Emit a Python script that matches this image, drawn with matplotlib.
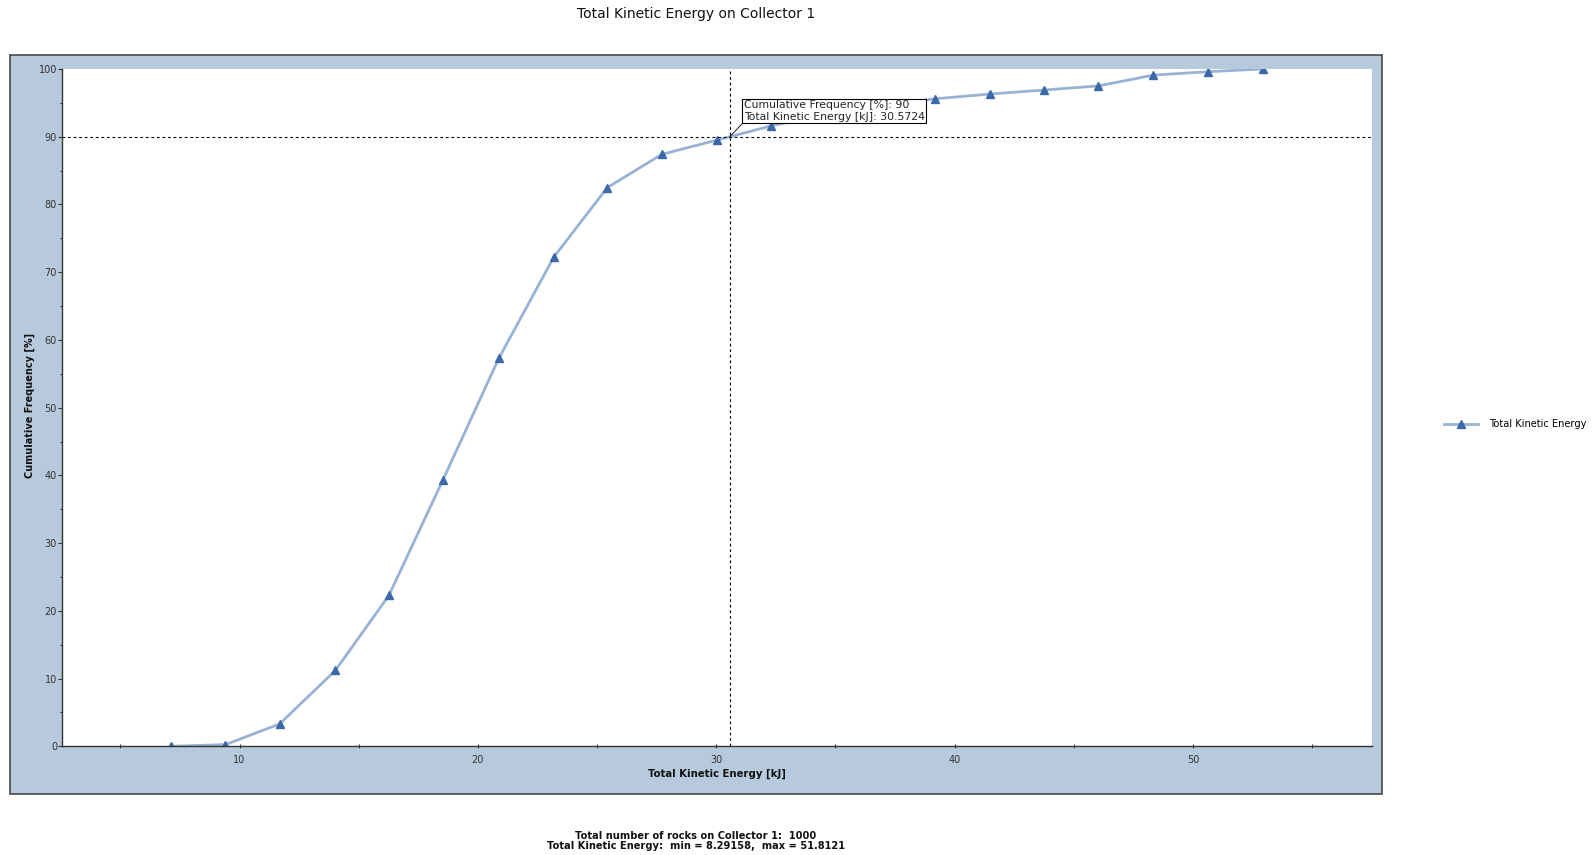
import matplotlib
matplotlib.use("Agg")
import matplotlib.pyplot as plt
from matplotlib.patches import Rectangle
from matplotlib.ticker import MultipleLocator

# cumulative distribution
energy_kj = [7.13, 9.41, 11.68, 14.02, 16.27, 18.53, 20.88, 23.18, 25.43, 27.72, 30.02,
             32.31, 34.60, 36.88, 39.17, 41.47, 43.75, 46.03, 48.34, 50.63, 52.92]
cum_freq = [0.0, 0.25, 3.3, 11.2, 22.3, 39.3, 57.3, 72.2, 82.5, 87.4, 89.5,
            91.6, 93.4, 94.6, 95.6, 96.3, 96.9, 97.5, 99.1, 99.6, 100.0]
probe_energy = 30.5724
probe_freq = 90
n_rocks = 1000
e_min = 8.29158
e_max = 51.8121

W, H = 1595, 855
panel_col = "#b7c9dd"
line_col = "#98b2d6"
mark_col = "#3b68a8"

plt.rcParams['font.family'] = 'DejaVu Sans'
fig = plt.figure(figsize=(W / 100, H / 100), dpi=100)
fig.patch.set_facecolor("white")

# grey-blue panel behind the plot area
panel = Rectangle((10 / W, 1 - 794.4 / H), (1381.7 - 10) / W, (794.4 - 55) / H,
                  transform=fig.transFigure, facecolor=panel_col,
                  edgecolor="#4a4a4a", linewidth=1.2, zorder=-5)
fig.add_artist(panel)

ax = fig.add_axes([62 / W, 1 - 746.3 / H, (1371.7 - 62) / W, (746.3 - 69) / H])
ax.set_facecolor("white")

ax.plot(energy_kj, cum_freq, color=line_col, linewidth=2.0, zorder=2,
        marker="^", markersize=6, markerfacecolor=mark_col, markeredgecolor=mark_col,
        label="Total Kinetic Energy")

# crosshair at the probed point
ax.axhline(probe_freq, color="black", linewidth=0.8, linestyle=(0, (2.5, 2.5)), zorder=3)
ax.axvline(probe_energy, color="black", linewidth=0.8, linestyle=(0, (2.5, 2.5)), zorder=3)

tip = f"Cumulative Frequency [%]: {probe_freq}\nTotal Kinetic Energy [kJ]: {probe_energy}"
ax.annotate(tip, xy=(probe_energy, probe_freq), xytext=(14, 15), textcoords="offset pixels",
            ha="left", va="bottom", fontsize=7.8, color="#222222", linespacing=1.2,
            bbox=dict(boxstyle="square,pad=0.14", facecolor="white", edgecolor="black", linewidth=0.8),
            arrowprops=dict(arrowstyle="-", color="black", linewidth=0.6, shrinkA=0, shrinkB=0,
                            relpos=(0, 0)),
            zorder=6)

xmin = min(energy_kj) - 0.1 * (max(energy_kj) - min(energy_kj))
xmax = max(energy_kj) + 0.1 * (max(energy_kj) - min(energy_kj))
ax.set_xlim(xmin, xmax)
ax.set_ylim(0, 100)

ax.xaxis.set_major_locator(MultipleLocator(10))
ax.xaxis.set_minor_locator(MultipleLocator(5))
ax.yaxis.set_major_locator(MultipleLocator(10))
ax.yaxis.set_minor_locator(MultipleLocator(5))

for s in ["top", "right"]:
    ax.spines[s].set_visible(False)
for s in ["left", "bottom"]:
    ax.spines[s].set_color("#333333")
    ax.spines[s].set_linewidth(1.0)

ax.tick_params(axis="x", which="both", direction="inout", length=3.4, width=0.8,
               colors="#333333", labelsize=7, pad=4.5)
ax.tick_params(axis="y", which="major", direction="out", length=2.6, width=0.8,
               colors="#333333", labelsize=7, pad=1)
ax.tick_params(axis="y", which="minor", direction="out", length=1.4, width=0.8, colors="#333333")

fig.text(696 / W, 1 - 14 / H, "Total Kinetic Energy on Collector 1", ha="center", va="center",
         fontsize=10, color="#111111")
fig.text(30 / W, 1 - 405 / H, "Cumulative Frequency [%]", rotation=90, ha="center", va="center",
         fontsize=7, fontweight="bold", color="#111111")
fig.text(716.8 / W, 1 - 774 / H, "Total Kinetic Energy [kJ]", ha="center", va="center",
         fontsize=7.25, fontweight="bold", color="#111111")
fig.text(696 / W, 1 - 841 / H,
         f"Total number of rocks on Collector 1:  {n_rocks}\n"
         f"Total Kinetic Energy:  min = {e_min},  max = {e_max}",
         ha="center", va="center", fontsize=7.1, fontweight="bold", color="#111111",
         linespacing=1.05)

fig.legend(loc="center left", bbox_to_anchor=(1444 / W, 1 - 424 / H), frameon=False,
           fontsize=7.1, handlelength=3.4, handletextpad=1.2, borderaxespad=0, borderpad=0)

fig.savefig("out.png", dpi=100)
